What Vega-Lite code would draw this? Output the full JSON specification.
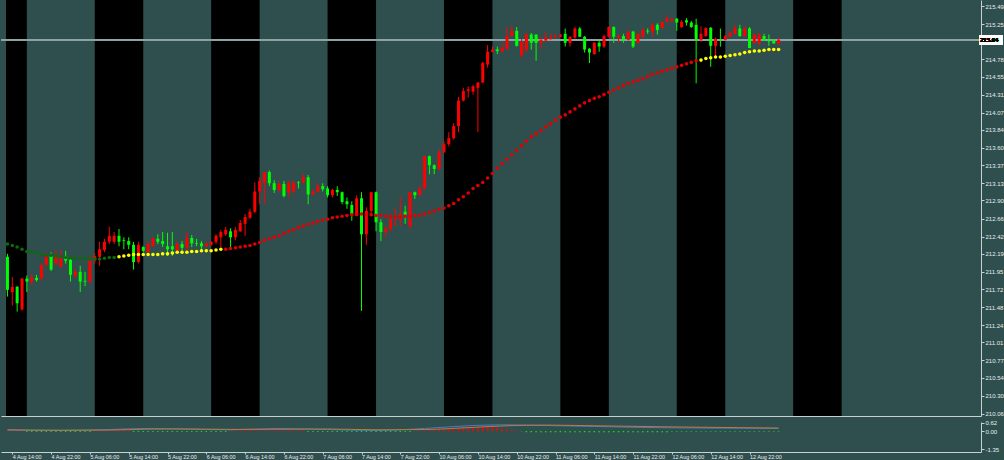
{
"$schema":"https://vega.github.io/schema/vega-lite/v6.json",
"background":"#2F4F4F",
"padding":0,
"spacing":2,
"config":{"view":{"stroke":null},"axis":{"labelFont":"Liberation Sans","labelFontSize":6,"labelColor":"#e6eeee","tickColor":"#c8d0d0","domainColor":"#c8d0d0","grid":false,"tickSize":3,"labelPadding":1,"labelOverlap":false}},
"datasets":{
"bars":[
{"k":-1,"o":212.15,"hi":212.19,"lo":211.62,"c":211.71,"ma":212.32,"mc":"g","hs":0.06},
{"k":0,"o":211.68,"hi":211.88,"lo":211.50,"c":211.75,"ma":212.30,"mc":"g","hs":0.06},
{"k":1,"o":211.75,"hi":211.76,"lo":211.42,"c":211.53,"ma":212.28,"mc":"g","hs":0.06},
{"k":2,"o":211.45,"hi":211.87,"lo":211.43,"c":211.86,"ma":212.25,"mc":"g","hs":0.06},
{"k":3,"o":211.86,"hi":211.90,"lo":211.68,"c":211.82,"ma":212.22,"mc":"g","hs":-0.06},
{"k":4,"o":211.82,"hi":211.92,"lo":211.78,"c":211.87,"ma":212.21,"mc":"g","hs":-0.06},
{"k":5,"o":211.87,"hi":211.91,"lo":211.82,"c":211.84,"ma":212.20,"mc":"g","hs":-0.06},
{"k":6,"o":211.86,"hi":212.06,"lo":211.84,"c":212.04,"ma":212.18,"mc":"g","hs":-0.06},
{"k":7,"o":212.04,"hi":212.21,"lo":212.03,"c":212.16,"ma":212.17,"mc":"g","hs":-0.06},
{"k":8,"o":212.16,"hi":212.21,"lo":211.96,"c":211.98,"ma":212.17,"mc":"g","hs":-0.06},
{"k":9,"o":212.06,"hi":212.24,"lo":212.04,"c":212.16,"ma":212.16,"mc":"g","hs":-0.06},
{"k":10,"o":212.02,"hi":212.23,"lo":212.00,"c":212.16,"ma":212.15,"mc":"g","hs":-0.06},
{"k":11,"o":212.16,"hi":212.23,"lo":212.06,"c":212.10,"ma":212.14,"mc":"g","hs":-0.06},
{"k":12,"o":212.11,"hi":212.15,"lo":211.82,"c":211.91,"ma":212.14,"mc":"g","hs":-0.06},
{"k":13,"o":211.90,"hi":211.99,"lo":211.87,"c":211.95,"ma":212.13,"mc":"g","hs":-0.06},
{"k":14,"o":211.95,"hi":212.03,"lo":211.68,"c":211.82,"ma":212.13,"mc":"g","hs":-0.06},
{"k":15,"o":211.83,"hi":211.95,"lo":211.76,"c":211.82,"ma":212.12,"mc":"g","hs":-0.06},
{"k":16,"o":211.82,"hi":212.15,"lo":211.79,"c":212.11,"ma":212.12,"mc":"g","hs":-0.06},
{"k":17,"o":212.10,"hi":212.20,"lo":212.06,"c":212.16,"ma":212.12,"mc":"g","hs":0.08},
{"k":18,"o":212.15,"hi":212.35,"lo":212.03,"c":212.25,"ma":212.12,"mc":"g","hs":0.08},
{"k":19,"o":212.24,"hi":212.39,"lo":212.21,"c":212.35,"ma":212.13,"mc":"g","hs":0.08},
{"k":20,"o":212.35,"hi":212.55,"lo":212.32,"c":212.43,"ma":212.14,"mc":"g","hs":0.08},
{"k":21,"o":212.35,"hi":212.48,"lo":212.32,"c":212.43,"ma":212.14,"mc":"g","hs":0.08},
{"k":22,"o":212.43,"hi":212.52,"lo":212.29,"c":212.35,"ma":212.15,"mc":"y","hs":0.08},
{"k":23,"o":212.37,"hi":212.41,"lo":212.25,"c":212.36,"ma":212.16,"mc":"y","hs":0.08},
{"k":24,"o":212.36,"hi":212.41,"lo":212.25,"c":212.31,"ma":212.17,"mc":"y","hs":0.08},
{"k":25,"o":212.31,"hi":212.35,"lo":211.98,"c":212.08,"ma":212.18,"mc":"y","hs":-0.06},
{"k":26,"o":212.08,"hi":212.35,"lo":212.06,"c":212.31,"ma":212.18,"mc":"y","hs":-0.06},
{"k":27,"o":212.28,"hi":212.29,"lo":212.21,"c":212.23,"ma":212.18,"mc":"y","hs":-0.06},
{"k":28,"o":212.21,"hi":212.35,"lo":212.21,"c":212.32,"ma":212.18,"mc":"y","hs":-0.06},
{"k":29,"o":212.29,"hi":212.40,"lo":212.29,"c":212.40,"ma":212.18,"mc":"y","hs":-0.06},
{"k":30,"o":212.39,"hi":212.45,"lo":212.32,"c":212.35,"ma":212.18,"mc":"y","hs":-0.06},
{"k":31,"o":212.36,"hi":212.48,"lo":212.28,"c":212.32,"ma":212.19,"mc":"y","hs":-0.06},
{"k":32,"o":212.29,"hi":212.47,"lo":212.16,"c":212.25,"ma":212.19,"mc":"y","hs":-0.06},
{"k":33,"o":212.29,"hi":212.48,"lo":212.16,"c":212.25,"ma":212.20,"mc":"y","hs":-0.06},
{"k":34,"o":212.23,"hi":212.35,"lo":212.21,"c":212.32,"ma":212.21,"mc":"y","hs":-0.06},
{"k":35,"o":212.32,"hi":212.36,"lo":212.23,"c":212.27,"ma":212.21,"mc":"y","hs":-0.06},
{"k":36,"o":212.27,"hi":212.48,"lo":212.23,"c":212.40,"ma":212.21,"mc":"y","hs":-0.06},
{"k":37,"o":212.40,"hi":212.44,"lo":212.28,"c":212.33,"ma":212.22,"mc":"y","hs":-0.06},
{"k":38,"o":212.33,"hi":212.39,"lo":212.29,"c":212.32,"ma":212.22,"mc":"y","hs":-0.06},
{"k":39,"o":212.33,"hi":212.36,"lo":212.25,"c":212.29,"ma":212.23,"mc":"y","hs":-0.06},
{"k":40,"o":212.29,"hi":212.35,"lo":212.28,"c":212.32,"ma":212.23,"mc":"y","hs":-0.06},
{"k":41,"o":212.31,"hi":212.36,"lo":212.29,"c":212.35,"ma":212.23,"mc":"y","hs":-0.06},
{"k":42,"o":212.35,"hi":212.45,"lo":212.32,"c":212.43,"ma":212.24,"mc":"y","hs":-0.06},
{"k":43,"o":212.41,"hi":212.51,"lo":212.28,"c":212.48,"ma":212.25,"mc":"y","hs":-0.06},
{"k":44,"o":212.45,"hi":212.55,"lo":212.43,"c":212.51,"ma":212.25,"mc":"r","hs":-0.06},
{"k":45,"o":212.49,"hi":212.53,"lo":212.28,"c":212.41,"ma":212.26,"mc":"r","hs":0.06},
{"k":46,"o":212.41,"hi":212.55,"lo":212.37,"c":212.51,"ma":212.27,"mc":"r","hs":0.06},
{"k":47,"o":212.49,"hi":212.64,"lo":212.48,"c":212.60,"ma":212.28,"mc":"r","hs":0.06},
{"k":48,"o":212.59,"hi":212.72,"lo":212.43,"c":212.68,"ma":212.29,"mc":"r","hs":0.06},
{"k":49,"o":212.67,"hi":212.79,"lo":212.65,"c":212.75,"ma":212.30,"mc":"r","hs":0.06},
{"k":50,"o":212.75,"hi":213.14,"lo":212.73,"c":213.02,"ma":212.32,"mc":"r","hs":0.06},
{"k":51,"o":213.02,"hi":213.21,"lo":212.85,"c":213.16,"ma":212.34,"mc":"r","hs":0.06},
{"k":52,"o":213.14,"hi":213.28,"lo":212.85,"c":213.28,"ma":212.37,"mc":"r","hs":0.06},
{"k":53,"o":213.28,"hi":213.30,"lo":213.09,"c":213.13,"ma":212.39,"mc":"r","hs":0.06},
{"k":54,"o":213.13,"hi":213.17,"lo":213.00,"c":213.04,"ma":212.41,"mc":"r","hs":0.06},
{"k":55,"o":213.04,"hi":213.16,"lo":213.01,"c":213.12,"ma":212.43,"mc":"r","hs":0.06},
{"k":56,"o":213.12,"hi":213.16,"lo":212.94,"c":212.96,"ma":212.46,"mc":"r","hs":0.06},
{"k":57,"o":213.01,"hi":213.16,"lo":212.94,"c":213.14,"ma":212.49,"mc":"r","hs":0.06},
{"k":58,"o":213.02,"hi":213.16,"lo":213.00,"c":213.14,"ma":212.51,"mc":"r","hs":0.06},
{"k":59,"o":213.14,"hi":213.16,"lo":213.06,"c":213.13,"ma":212.54,"mc":"r","hs":0.06},
{"k":60,"o":213.14,"hi":213.25,"lo":213.13,"c":213.21,"ma":212.56,"mc":"r","hs":0.06},
{"k":61,"o":213.21,"hi":213.24,"lo":212.85,"c":212.98,"ma":212.58,"mc":"r","hs":-0.06},
{"k":62,"o":212.98,"hi":213.05,"lo":212.97,"c":213.02,"ma":212.60,"mc":"r","hs":-0.06},
{"k":63,"o":213.02,"hi":213.13,"lo":213.01,"c":213.09,"ma":212.62,"mc":"r","hs":-0.06},
{"k":64,"o":213.09,"hi":213.13,"lo":213.02,"c":213.05,"ma":212.64,"mc":"r","hs":-0.06},
{"k":65,"o":213.06,"hi":213.09,"lo":212.94,"c":212.97,"ma":212.65,"mc":"r","hs":-0.06},
{"k":66,"o":212.97,"hi":213.06,"lo":212.94,"c":213.04,"ma":212.67,"mc":"r","hs":-0.06},
{"k":67,"o":213.04,"hi":213.09,"lo":212.96,"c":213.01,"ma":212.68,"mc":"r","hs":-0.06},
{"k":68,"o":213.01,"hi":213.02,"lo":212.85,"c":212.88,"ma":212.69,"mc":"r","hs":-0.06},
{"k":69,"o":212.89,"hi":212.94,"lo":212.79,"c":212.85,"ma":212.70,"mc":"r","hs":-0.06},
{"k":70,"o":212.84,"hi":212.89,"lo":212.63,"c":212.72,"ma":212.71,"mc":"r","hs":-0.06},
{"k":71,"o":212.72,"hi":212.97,"lo":212.71,"c":212.93,"ma":212.71,"mc":"r","hs":-0.06},
{"k":72,"o":212.93,"hi":213.01,"lo":211.43,"c":212.45,"ma":212.72,"mc":"r","hs":-0.06},
{"k":73,"o":212.45,"hi":212.81,"lo":212.31,"c":212.76,"ma":212.71,"mc":"r","hs":-0.06},
{"k":74,"o":212.76,"hi":213.01,"lo":212.72,"c":213.01,"ma":212.71,"mc":"r","hs":-0.06},
{"k":75,"o":213.01,"hi":213.02,"lo":212.49,"c":212.61,"ma":212.70,"mc":"r","hs":-0.06},
{"k":76,"o":212.61,"hi":212.65,"lo":212.36,"c":212.48,"ma":212.70,"mc":"r","hs":-0.06},
{"k":77,"o":212.48,"hi":212.56,"lo":212.41,"c":212.52,"ma":212.69,"mc":"r","hs":-0.06},
{"k":78,"o":212.52,"hi":212.72,"lo":212.49,"c":212.65,"ma":212.69,"mc":"r","hs":-0.06},
{"k":79,"o":212.65,"hi":212.79,"lo":212.56,"c":212.69,"ma":212.68,"mc":"r","hs":-0.06},
{"k":80,"o":212.65,"hi":212.94,"lo":212.56,"c":212.72,"ma":212.68,"mc":"r","hs":-0.06},
{"k":81,"o":212.75,"hi":212.83,"lo":212.59,"c":212.71,"ma":212.69,"mc":"r","hs":-0.06},
{"k":82,"o":212.56,"hi":213.01,"lo":212.52,"c":213.01,"ma":212.69,"mc":"r","hs":-0.06},
{"k":83,"o":213.01,"hi":213.02,"lo":212.92,"c":212.97,"ma":212.70,"mc":"r","hs":0.03},
{"k":84,"o":212.97,"hi":213.09,"lo":212.96,"c":213.06,"ma":212.70,"mc":"r","hs":0.05},
{"k":85,"o":213.06,"hi":213.49,"lo":213.05,"c":213.49,"ma":212.72,"mc":"r","hs":0.08},
{"k":86,"o":213.49,"hi":213.50,"lo":213.25,"c":213.37,"ma":212.74,"mc":"r","hs":0.10},
{"k":87,"o":213.37,"hi":213.38,"lo":213.25,"c":213.32,"ma":212.76,"mc":"r","hs":0.12},
{"k":88,"o":213.32,"hi":213.58,"lo":213.30,"c":213.54,"ma":212.78,"mc":"r","hs":0.14},
{"k":89,"o":213.54,"hi":213.69,"lo":213.54,"c":213.65,"ma":212.80,"mc":"r","hs":0.16},
{"k":90,"o":213.65,"hi":213.81,"lo":213.62,"c":213.73,"ma":212.83,"mc":"r","hs":0.18},
{"k":91,"o":213.73,"hi":213.93,"lo":213.71,"c":213.89,"ma":212.86,"mc":"r","hs":0.20},
{"k":92,"o":213.89,"hi":214.28,"lo":213.81,"c":214.23,"ma":212.91,"mc":"r","hs":0.22},
{"k":93,"o":214.23,"hi":214.40,"lo":214.22,"c":214.36,"ma":212.95,"mc":"r","hs":0.25},
{"k":94,"o":214.36,"hi":214.42,"lo":214.27,"c":214.38,"ma":213.00,"mc":"r","hs":0.27},
{"k":95,"o":214.35,"hi":214.44,"lo":214.31,"c":214.42,"ma":213.06,"mc":"r","hs":0.30},
{"k":96,"o":214.40,"hi":214.48,"lo":213.81,"c":214.47,"ma":213.10,"mc":"r","hs":0.32},
{"k":97,"o":214.47,"hi":214.75,"lo":214.47,"c":214.73,"ma":213.14,"mc":"r","hs":0.34},
{"k":98,"o":214.71,"hi":214.97,"lo":214.67,"c":214.88,"ma":213.20,"mc":"r","hs":0.32},
{"k":99,"o":214.88,"hi":214.95,"lo":214.87,"c":214.91,"ma":213.26,"mc":"r","hs":0.28},
{"k":100,"o":214.91,"hi":214.95,"lo":214.85,"c":214.89,"ma":213.33,"mc":"r","hs":0.24},
{"k":101,"o":214.88,"hi":215.00,"lo":214.88,"c":214.93,"ma":213.39,"mc":"r","hs":0.18},
{"k":102,"o":214.92,"hi":215.21,"lo":214.91,"c":215.09,"ma":213.45,"mc":"r","hs":0.13},
{"k":103,"o":215.09,"hi":215.23,"lo":215.08,"c":215.16,"ma":213.51,"mc":"r","hs":0.08},
{"k":104,"o":215.16,"hi":215.21,"lo":214.95,"c":214.96,"ma":213.57,"mc":"r","hs":0.03},
{"k":105,"o":214.83,"hi":215.05,"lo":214.81,"c":215.01,"ma":213.63,"mc":"r","hs":-0.02},
{"k":106,"o":214.91,"hi":215.13,"lo":214.88,"c":215.11,"ma":213.69,"mc":"r","hs":-0.08},
{"k":107,"o":215.11,"hi":215.13,"lo":214.91,"c":215.00,"ma":213.75,"mc":"r","hs":-0.08},
{"k":108,"o":215.11,"hi":215.11,"lo":214.76,"c":215.00,"ma":213.79,"mc":"r","hs":-0.08},
{"k":109,"o":215.00,"hi":215.07,"lo":214.92,"c":215.04,"ma":213.83,"mc":"r","hs":-0.08},
{"k":110,"o":215.03,"hi":215.15,"lo":215.01,"c":215.07,"ma":213.88,"mc":"r","hs":-0.08},
{"k":111,"o":215.05,"hi":215.12,"lo":215.04,"c":215.07,"ma":213.92,"mc":"r","hs":-0.08},
{"k":112,"o":215.08,"hi":215.12,"lo":215.05,"c":215.09,"ma":213.97,"mc":"r","hs":-0.08},
{"k":113,"o":215.08,"hi":215.12,"lo":215.07,"c":215.11,"ma":214.01,"mc":"r","hs":-0.08},
{"k":114,"o":215.12,"hi":215.19,"lo":214.95,"c":215.00,"ma":214.04,"mc":"r","hs":-0.08},
{"k":115,"o":215.00,"hi":215.09,"lo":214.95,"c":215.08,"ma":214.08,"mc":"r","hs":-0.08},
{"k":116,"o":215.07,"hi":215.21,"lo":215.05,"c":215.19,"ma":214.12,"mc":"r","hs":-0.08},
{"k":117,"o":215.19,"hi":215.21,"lo":215.08,"c":215.08,"ma":214.16,"mc":"r","hs":-0.08},
{"k":118,"o":215.08,"hi":215.09,"lo":214.87,"c":214.91,"ma":214.20,"mc":"r","hs":-0.08},
{"k":119,"o":214.92,"hi":214.93,"lo":214.73,"c":214.87,"ma":214.23,"mc":"r","hs":-0.08},
{"k":120,"o":214.85,"hi":215.01,"lo":214.84,"c":215.00,"ma":214.26,"mc":"r","hs":-0.08},
{"k":121,"o":215.00,"hi":215.04,"lo":214.88,"c":214.95,"ma":214.28,"mc":"r","hs":-0.08},
{"k":122,"o":214.95,"hi":215.11,"lo":214.93,"c":215.09,"ma":214.31,"mc":"r","hs":-0.08},
{"k":123,"o":215.08,"hi":215.22,"lo":215.07,"c":215.21,"ma":214.34,"mc":"r","hs":-0.08},
{"k":124,"o":215.21,"hi":215.22,"lo":215.00,"c":215.08,"ma":214.37,"mc":"r","hs":-0.08},
{"k":125,"o":215.07,"hi":215.12,"lo":215.00,"c":215.09,"ma":214.40,"mc":"r","hs":-0.08},
{"k":126,"o":215.09,"hi":215.12,"lo":215.00,"c":215.04,"ma":214.43,"mc":"r","hs":-0.08},
{"k":127,"o":215.04,"hi":215.16,"lo":215.03,"c":215.15,"ma":214.46,"mc":"r","hs":-0.08},
{"k":128,"o":215.15,"hi":215.16,"lo":214.93,"c":214.95,"ma":214.48,"mc":"r","hs":-0.08},
{"k":129,"o":215.00,"hi":215.13,"lo":214.99,"c":215.12,"ma":214.50,"mc":"r","hs":-0.08},
{"k":130,"o":215.08,"hi":215.20,"lo":215.07,"c":215.17,"ma":214.52,"mc":"r","hs":-0.08},
{"k":131,"o":215.16,"hi":215.19,"lo":215.12,"c":215.15,"ma":214.55,"mc":"r","hs":-0.08},
{"k":132,"o":215.15,"hi":215.26,"lo":215.08,"c":215.24,"ma":214.58,"mc":"r","hs":-0.08},
{"k":133,"o":215.24,"hi":215.26,"lo":215.11,"c":215.17,"ma":214.60,"mc":"r","hs":-0.08},
{"k":134,"o":215.20,"hi":215.28,"lo":215.19,"c":215.28,"ma":214.62,"mc":"r","hs":-0.08},
{"k":135,"o":215.28,"hi":215.37,"lo":215.27,"c":215.32,"ma":214.64,"mc":"r","hs":-0.08},
{"k":136,"o":215.30,"hi":215.33,"lo":215.27,"c":215.32,"ma":214.66,"mc":"r","hs":-0.04},
{"k":137,"o":215.32,"hi":215.33,"lo":215.16,"c":215.27,"ma":214.68,"mc":"r","hs":-0.04},
{"k":138,"o":215.21,"hi":215.30,"lo":215.20,"c":215.28,"ma":214.70,"mc":"r","hs":-0.04},
{"k":139,"o":215.30,"hi":215.33,"lo":215.23,"c":215.27,"ma":214.72,"mc":"r","hs":-0.04},
{"k":140,"o":215.27,"hi":215.29,"lo":215.20,"c":215.21,"ma":214.74,"mc":"r","hs":-0.04},
{"k":141,"o":215.24,"hi":215.32,"lo":214.46,"c":215.04,"ma":214.76,"mc":"r","hs":-0.04},
{"k":142,"o":215.04,"hi":215.22,"lo":215.01,"c":215.12,"ma":214.77,"mc":"y","hs":-0.04},
{"k":143,"o":215.09,"hi":215.20,"lo":215.08,"c":215.20,"ma":214.79,"mc":"y","hs":-0.04},
{"k":144,"o":215.20,"hi":215.21,"lo":214.68,"c":214.96,"ma":214.80,"mc":"y","hs":-0.04},
{"k":145,"o":214.96,"hi":215.07,"lo":214.81,"c":215.05,"ma":214.81,"mc":"y","hs":-0.04},
{"k":146,"o":215.05,"hi":215.19,"lo":214.95,"c":215.04,"ma":214.81,"mc":"y","hs":-0.04},
{"k":147,"o":215.04,"hi":215.11,"lo":215.03,"c":215.09,"ma":214.82,"mc":"y","hs":-0.04},
{"k":148,"o":215.08,"hi":215.16,"lo":215.07,"c":215.13,"ma":214.83,"mc":"y","hs":-0.04},
{"k":149,"o":215.12,"hi":215.24,"lo":215.11,"c":215.20,"ma":214.84,"mc":"y","hs":-0.04},
{"k":150,"o":215.19,"hi":215.24,"lo":215.08,"c":215.09,"ma":214.85,"mc":"y","hs":-0.04},
{"k":151,"o":215.09,"hi":215.21,"lo":215.08,"c":215.19,"ma":214.87,"mc":"y","hs":-0.04},
{"k":152,"o":215.19,"hi":215.21,"lo":214.93,"c":214.93,"ma":214.88,"mc":"y","hs":-0.04},
{"k":153,"o":215.00,"hi":215.12,"lo":214.99,"c":215.11,"ma":214.89,"mc":"y","hs":-0.04},
{"k":154,"o":214.99,"hi":215.13,"lo":214.97,"c":215.11,"ma":214.89,"mc":"y","hs":-0.04},
{"k":155,"o":215.09,"hi":215.12,"lo":215.03,"c":215.03,"ma":214.90,"mc":"y","hs":-0.04},
{"k":156,"o":215.03,"hi":215.11,"lo":214.96,"c":215.02,"ma":214.91,"mc":"y","hs":-0.04},
{"k":157,"o":215.03,"hi":215.05,"lo":214.99,"c":214.99,"ma":214.91,"mc":"y","hs":-0.04},
{"k":158,"o":214.99,"hi":215.07,"lo":214.97,"c":215.04,"ma":214.91,"mc":"y","hs":-0.04}
],
"ind":[
{"k":-1,"m":0.08,"s":0.10},{"k":10,"m":0.05,"s":0.07},{"k":20,"m":0.12,"s":0.08},{"k":28,"m":0.20,"s":0.15},{"k":35,"m":0.15,"s":0.17},{"k":45,"m":0.10,"s":0.13},{"k":55,"m":0.20,"s":0.14},{"k":65,"m":0.12,"s":0.16},{"k":75,"m":0.05,"s":0.10},{"k":85,"m":0.20,"s":0.12},{"k":95,"m":0.42,"s":0.28},{"k":102,"m":0.47,"s":0.40},{"k":110,"m":0.42,"s":0.45},{"k":120,"m":0.35,"s":0.40},{"k":135,"m":0.25,"s":0.32},{"k":150,"m":0.22,"s":0.26},{"k":158,"m":0.20,"s":0.23}
],
"bands":[
{"s":-1.3,"e":3},{"s":17,"e":27},{"s":41,"e":51},{"s":65,"e":75},{"s":89,"e":99},{"s":113,"e":123},{"s":137,"e":147},{"s":161,"e":171}
]
},
"vconcat":[
{
"width":980,"height":416,
"layer":[
{"data":{"name":"bands"},"mark":{"type":"rect","color":"#000000","clip":true},
 "encoding":{"x":{"field":"s","type":"quantitative","scale":{"domain":[-1.3,198.7],"nice":false,"zero":false},"axis":{"title":null,"labels":false,"ticks":false,"domain":true}},"x2":{"field":"e"}}},
{"data":{"name":"bars"},"mark":{"type":"rule","color":"#8fa5a5","strokeWidth":1,"opacity":0.75},"encoding":{"y":{"datum":215.04,"type":"quantitative","scale":{"domain":[210.03,215.57],"nice":false,"zero":false},"axis":{"orient":"right","title":null,"labelOverlap":false,"labelBound":false,"tickCount":100,"values":[215.49,215.25,214.78,214.55,214.31,214.07,213.84,213.60,213.37,213.13,212.90,212.66,212.42,212.19,211.95,211.72,211.48,211.24,211.01,210.77,210.54,210.30,210.06],"format":".2f"}}}},
{"data":{"name":"bars"},"mark":{"type":"rule","strokeWidth":1},
 "encoding":{"x":{"field":"k","type":"quantitative"},"y":{"field":"lo","type":"quantitative"},"y2":{"field":"hi"},
 "color":{"condition":{"test":"datum.c > datum.o","value":"#ff0000"},"value":"#00ff00"}}},
{"data":{"name":"bars"},"mark":{"type":"bar","size":3},
 "encoding":{"x":{"field":"k","type":"quantitative"},"y":{"field":"o","type":"quantitative"},"y2":{"field":"c"},
 "color":{"condition":{"test":"datum.c > datum.o","value":"#ff0000"},"value":"#00ff00"}}},
{"data":{"name":"bars"},"mark":{"type":"point","filled":true,"size":13,"opacity":1},
 "encoding":{"x":{"field":"k","type":"quantitative"},"y":{"field":"ma","type":"quantitative"},
 "color":{"field":"mc","type":"nominal","scale":{"domain":["g","y","r"],"range":["#0b6b0b","#ffff00","#e00000"]},"legend":null}}},
{"data":{"name":"bars"},"mark":{"type":"point","shape":"M0,-1H5.2V1H0Z","filled":true,"color":"#ffffff","opacity":1,"size":81,"clip":false,"xOffset":3},
 "encoding":{"x":{"datum":198.7},"y":{"datum":215.04}}},
{"data":{"name":"bars"},"mark":{"type":"text","text":"215.04","font":"Liberation Sans","fontSize":6,"color":"#000000","align":"left","baseline":"middle","dx":4,"clip":false},
 "encoding":{"x":{"datum":198.7},"y":{"datum":215.04}}}
]
},
{
"width":980,"height":30,
"layer":[
{"data":{"name":"bars"},"mark":{"type":"bar","size":1.5},
 "encoding":{"x":{"field":"k","type":"quantitative","scale":{"domain":[-1.3,198.7],"nice":false,"zero":false},
 "axis":{"title":null,"orient":"bottom","tickSize":2,"labelPadding":0,"labelFontSize":5.4,"labelOverlap":false,"tickCount":100,"values":[0,8,16,24,32,40,48,56,64,72,80,88,96,104,112,120,128,136,144,152],"labelAlign":"left","labelBaseline":"top","labelExpr":"['4 Aug 14:00','4 Aug 22:00','5 Aug 06:00','5 Aug 14:00','5 Aug 22:00','6 Aug 06:00','6 Aug 14:00','6 Aug 22:00','7 Aug 06:00','7 Aug 14:00','7 Aug 22:00','10 Aug 06:00','10 Aug 14:00','10 Aug 22:00','11 Aug 06:00','11 Aug 14:00','11 Aug 22:00','12 Aug 06:00','12 Aug 14:00','12 Aug 22:00'][round(datum.value/8)]"}},
 "y":{"field":"hs","type":"quantitative","scale":{"domain":[-1.55,0.68],"nice":false,"zero":false},"axis":{"orient":"right","title":null,"labelOverlap":false,"tickCount":100,"values":[0.62,0,-1.35],"labelExpr":"datum.value < 0 ? '-1.35' : format(datum.value,'.2f')"}},
 "y2":{"datum":0},
 "color":{"condition":{"test":"datum.hs > 0","value":"#ff0000"},"value":"#00ff00"}}},
{"data":{"name":"ind"},"mark":{"type":"line","color":"#4a78c8","strokeWidth":1,"interpolate":"monotone"},
 "encoding":{"x":{"field":"k","type":"quantitative"},"y":{"field":"m","type":"quantitative"}}},
{"data":{"name":"ind"},"mark":{"type":"line","color":"#c07840","strokeWidth":1,"interpolate":"monotone"},
 "encoding":{"x":{"field":"k","type":"quantitative"},"y":{"field":"s","type":"quantitative"}}}
]
}
]
}
